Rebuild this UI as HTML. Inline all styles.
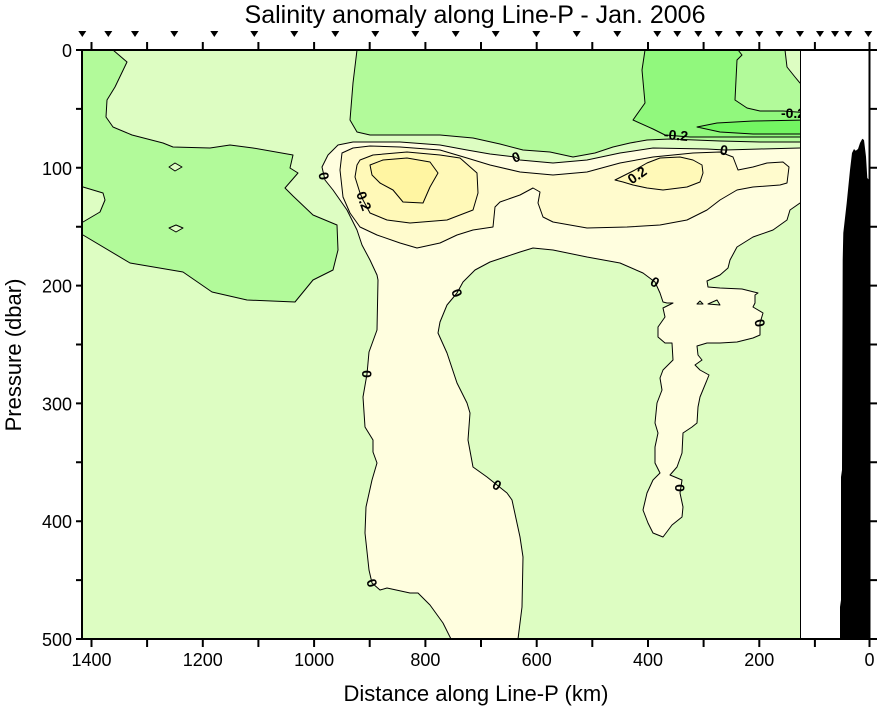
<!DOCTYPE html>
<html><head><meta charset="utf-8"><style>
html,body{margin:0;padding:0;background:#fff;}
svg{display:block;}
text{font-family:"Liberation Sans",Arial,sans-serif;fill:#000;}
.lab{font-size:14px;font-weight:bold;}
</style></head><body>
<svg width="878" height="708" viewBox="0 0 878 708" xmlns="http://www.w3.org/2000/svg">
<defs><clipPath id="pc"><rect x="82" y="50" width="718" height="589"/></clipPath></defs>
<rect x="0" y="0" width="878" height="708" fill="#fff"/>
<g clip-path="url(#pc)" stroke="#000" stroke-width="1" stroke-linejoin="round">
<rect x="82" y="50" width="718" height="589" fill="#DDFDC2" stroke="none"/>
<path fill="#B2FA9A" d="M70,40 L113,40 L113,50 L127,62 L115,87 L107,100 L106,117 L113,127 L132,135 L163,143 L173,147 L210,148 L230,145 L253,148 L293,155 L290,168 L298,173 L285,188 L293,196 L313,215 L337,225 L338,250 L333,270 L313,280 L295,302 L247,300 L212,292 L183,272 L130,263 L83,235 L70,235 L70,222 L83,222 L100,212 L105,200 L103,193 L83,187 L70,187 Z"/>
<path fill="#DDFDC2" d="M169,167 L175,163 L182,167 L175,171 Z"/>
<path fill="#DDFDC2" d="M169,228 L176,225 L183,228 L176,232 Z"/>
<path fill="#B2FA9A" d="M357,40 L810,40 L810,142 L760,142 L720,141 L670,139 L647,140 L630,143 L613,147 L595,153 L573,157 L550,152 L523,150 L500,144 L473,138 L440,135 L370,135 L357,132 L350,120 L353,83 L357,50 Z"/>
<path fill="#DDFDC2" d="M785,40 L785,50 L787,67 L795,77 L800,83 L810,83 L810,40 Z"/>
<path fill="#91F87D" d="M645,40 L738,40 L738,50 L742,55 L737,60 L735,100 L747,108 L760,111 L783,111 L810,113 L810,137 L760,137 L720,137 L690,137 L665,135 L653,129 L633,120 L645,103 L642,70 L645,50 Z"/>
<path fill="#73F562" d="M697,127 L717,123 L753,121 L810,120 L810,134 L753,134 L720,132 Z"/>
<path fill="#FFFEDF" d="M322,167 L328,155 L338,145 L353,142 L400,142 L440,145 L467,150 L490,154 L515,157 L520,160 L553,163 L587,160 L620,153 L653,148 L707,149 L725,150 L760,149 L800,148 L810,148 L810,203 L800,203 L790,210 L787,220 L773,230 L753,237 L737,247 L730,260 L728,268 L720,275 L707,281 L708,287 L720,288 L742,289 L758,293 L755,295 L755,303 L753,307 L763,313 L760,323 L760,335 L753,338 L737,342 L720,343 L707,343 L697,346 L698,355 L702,360 L695,365 L700,370 L709,375 L707,380 L700,397 L698,407 L697,423 L692,427 L683,433 L682,453 L677,467 L670,475 L682,480 L680,493 L683,507 L682,517 L672,525 L663,537 L653,533 L648,523 L643,510 L647,493 L653,480 L660,473 L655,463 L655,447 L658,433 L655,423 L657,403 L662,390 L660,378 L663,370 L673,360 L672,343 L665,343 L658,337 L658,327 L665,317 L663,308 L673,303 L667,303 L663,302 L660,293 L655,282 L643,273 L620,263 L587,257 L553,250 L533,248 L520,252 L505,257 L490,262 L475,270 L463,282 L457,293 L447,305 L440,322 L438,333 L447,353 L457,383 L467,403 L470,413 L468,440 L473,467 L487,477 L497,485 L507,493 L512,500 L520,537 L523,557 L522,607 L518,639 L518,650 L451,650 L451,639 L443,623 L430,605 L418,593 L410,593 L387,588 L380,590 L372,583 L369,570 L365,533 L366,507 L372,480 L377,463 L373,452 L373,440 L365,427 L363,397 L367,374 L369,352 L377,330 L378,280 L377,275 L370,260 L362,245 L357,230 L347,210 L340,200 L333,190 L325,180 Z"/>
<path fill="#DDFDC2" d="M697,304 L700,301 L703,304 Z"/>
<path fill="#DDFDC2" d="M708,304 L717,300 L720,305 Z"/>
<path fill="#FFFBCD" d="M342,153 L353,148 L370,146 L400,147 L440,150 L467,158 L490,165 L520,172 L553,175 L587,172 L620,163 L653,157 L693,153 L720,152 L733,157 L738,170 L753,167 L767,163 L783,162 L789,167 L787,183 L780,185 L753,187 L737,190 L720,200 L707,210 L687,220 L660,225 L627,227 L587,228 L553,222 L543,217 L538,203 L540,192 L533,188 L520,195 L500,202 L495,207 L493,227 L473,230 L457,235 L440,243 L417,248 L400,243 L377,235 L360,227 L350,213 L343,197 L340,170 Z"/>
<path fill="#FFF9B8" d="M357,165 L360,160 L373,155 L407,152 L440,155 L460,158 L477,173 L478,193 L473,210 L447,220 L410,223 L387,220 L370,213 L363,200 L360,193 L355,177 Z"/>
<path fill="#FFF9B8" d="M615,180 L623,182 L633,185 L647,188 L663,190 L687,187 L700,182 L703,173 L702,165 L693,160 L680,157 L660,158 L647,163 L635,170 Z"/>
<path fill="#FFF5A2" d="M370,165 L383,160 L407,158 L430,162 L438,173 L430,187 L423,203 L403,202 L393,190 L380,183 L372,175 Z"/>
<g stroke="none">
<text class="lab" x="324" y="176" text-anchor="middle" dominant-baseline="central" transform="rotate(80 324 176)">0</text>
<text class="lab" x="364" y="201" text-anchor="middle" dominant-baseline="central" transform="rotate(70 364 201)">0.2</text>
<text class="lab" x="516" y="157" text-anchor="middle" dominant-baseline="central" transform="rotate(-20 516 157)">0</text>
<text class="lab" x="637" y="175" text-anchor="middle" dominant-baseline="central" transform="rotate(-35 637 175)">0.2</text>
<text class="lab" x="676" y="135" text-anchor="middle" dominant-baseline="central" transform="rotate(5 676 135)">-0.2</text>
<text class="lab" x="724" y="150" text-anchor="middle" dominant-baseline="central" transform="rotate(10 724 150)">0</text>
<text class="lab" x="793" y="113" text-anchor="middle" dominant-baseline="central">-0.2</text>
<text class="lab" x="367" y="374" text-anchor="middle" dominant-baseline="central" transform="rotate(90 367 374)">0</text>
<text class="lab" x="457" y="293" text-anchor="middle" dominant-baseline="central" transform="rotate(70 457 293)">0</text>
<text class="lab" x="497" y="485" text-anchor="middle" dominant-baseline="central" transform="rotate(30 497 485)">0</text>
<text class="lab" x="372" y="583" text-anchor="middle" dominant-baseline="central" transform="rotate(70 372 583)">0</text>
<text class="lab" x="655" y="282" text-anchor="middle" dominant-baseline="central" transform="rotate(30 655 282)">0</text>
<text class="lab" x="760" y="323" text-anchor="middle" dominant-baseline="central" transform="rotate(80 760 323)">0</text>
<text class="lab" x="680" y="488" text-anchor="middle" dominant-baseline="central" transform="rotate(90 680 488)">0</text>
</g>
</g>
<line x1="800.5" y1="50" x2="800.5" y2="639" stroke="#000" stroke-width="1"/>
<path fill="#000" d="M840,639 L840,607 L841,600 L841,477 L842,470 L842.7,260 L843.3,233 L846.7,203 L850,170 L852,153 L854,149 L855.7,150.7 L858,149 L860,143 L862.3,138.7 L864,140 L866,156.7 L867.3,178 L869,180 L869,639 Z"/>
<g stroke="#000" stroke-width="2" fill="none">
<rect x="82" y="50" width="787.5" height="589"/>
<path d="M82,50 H76 M82,108.9 H76 M82,167.8 H76 M82,226.7 H76 M82,285.6 H76 M82,344.5 H76 M82,403.4 H76 M82,462.3 H76 M82,521.2 H76 M82,580.1 H76 M82,639 H76"/>
<path d="M869.5,50 H877 M869.5,108.9 H877 M869.5,167.8 H877 M869.5,226.7 H877 M869.5,285.6 H877 M869.5,344.5 H877 M869.5,403.4 H877 M869.5,462.3 H877 M869.5,521.2 H877 M869.5,580.1 H877 M869.5,639 H877"/>
<path d="M91.5,50 V42 M147.1,50 V42 M202.8,50 V42 M258.4,50 V42 M314.1,50 V42 M369.7,50 V42 M425.4,50 V42 M481,50 V42 M536.7,50 V42 M592.3,50 V42 M648,50 V42 M703.6,50 V42 M759.3,50 V42 M814.9,50 V42 M869.5,50 V42"/>
<path d="M91.5,639 V647 M147.1,639 V647 M202.8,639 V647 M258.4,639 V647 M314.1,639 V647 M369.7,639 V647 M425.4,639 V647 M481,639 V647 M536.7,639 V647 M592.3,639 V647 M648,639 V647 M703.6,639 V647 M759.3,639 V647 M814.9,639 V647 M869.5,639 V647"/>
</g>
<g fill="#000">
<path d="M78.3,31 h8 l-4,6 Z M104.3,31 h8 l-4,6 Z M131,31 h8 l-4,6 Z M170.3,31 h8 l-4,6 Z M210.3,31 h8 l-4,6 Z M250.3,31 h8 l-4,6 Z M290.3,31 h8 l-4,6 Z M331.3,31 h8 l-4,6 Z M371.3,31 h8 l-4,6 Z M411.3,31 h8 l-4,6 Z M451.7,31 h8 l-4,6 Z M491.7,31 h8 l-4,6 Z M532.3,31 h8 l-4,6 Z M572.7,31 h8 l-4,6 Z M613.3,31 h8 l-4,6 Z M653.3,31 h8 l-4,6 Z M673.3,31 h8 l-4,6 Z M694.3,31 h8 l-4,6 Z M714.7,31 h8 l-4,6 Z M735.3,31 h8 l-4,6 Z M755.3,31 h8 l-4,6 Z M775.3,31 h8 l-4,6 Z M796,31 h8 l-4,6 Z M816,31 h8 l-4,6 Z M831,31 h8 l-4,6 Z M844.3,31 h8 l-4,6 Z M864.3,31 h8 l-4,6 Z"/>
</g>
<g font-size="18" text-anchor="end">
<text x="72" y="57">0</text>
<text x="72" y="174.8">100</text>
<text x="72" y="292.6">200</text>
<text x="72" y="410.4">300</text>
<text x="72" y="528.2">400</text>
<text x="72" y="646">500</text>
</g>
<g font-size="18" text-anchor="middle">
<text x="91.5" y="666">1400</text>
<text x="202.8" y="666">1200</text>
<text x="314.1" y="666">1000</text>
<text x="425.4" y="666">800</text>
<text x="536.7" y="666">600</text>
<text x="648" y="666">400</text>
<text x="759.3" y="666">200</text>
<text x="869.5" y="666">0</text>
</g>
<text x="475" y="23" font-size="25" text-anchor="middle">Salinity anomaly along Line-P - Jan. 2006</text>
<text x="476" y="701" font-size="22" text-anchor="middle">Distance along Line-P (km)</text>
<text x="21" y="355" font-size="22" text-anchor="middle" transform="rotate(-90 21 355)">Pressure (dbar)</text>
</svg>
</body></html>
